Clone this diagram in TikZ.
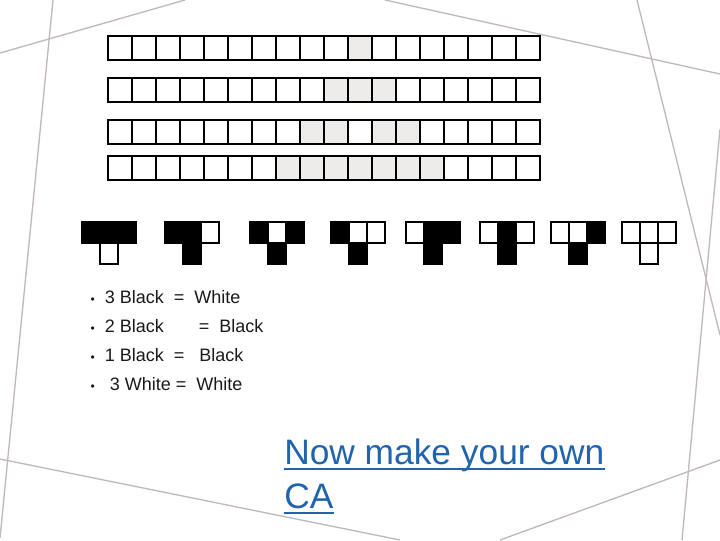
\documentclass[tikz,border=0pt]{standalone}
\usepackage{fontspec}
\setmainfont{Liberation Sans}
\definecolor{frameline}{RGB}{192,184,188}
\definecolor{caShade}{RGB}{238,235,235}
\definecolor{linkblue}{RGB}{31,100,173}
\tikzset{
  cacell/.style={draw, line width=0.9pt},
  rulecell/.style={draw, line width=0.9pt},
  ruletext/.style={anchor=west, font=\fontsize{13.5}{16}\selectfont, text=black!90},
  linktext/.style={anchor=base west, inner sep=0pt, text=linkblue, font=\fontsize{26.5}{34}\selectfont},
}
\begin{document}
\begin{tikzpicture}[x=0.75pt,y=0.75pt,yscale=-1,xscale=1]
\useasboundingbox (0,0) rectangle (720,540);

% background lines
\draw [frameline, line width=1pt] (53,0) -- (0,538);
\draw [frameline, line width=1pt] (0,53) -- (185,0);
\draw [frameline, line width=1pt] (385,0) -- (720,74);
\draw [frameline, line width=1pt] (637,0) -- (720,335);
\draw [frameline, line width=1pt] (720,129) -- (682,540);
\draw [frameline, line width=1pt] (0,459) -- (400,540);
\draw [frameline, line width=1pt] (500,540) -- (720,460);

% CA rows
\foreach \r/\y/\cells in {1/36/{10}, 2/78/{9,10,11}, 3/120/{8,9,11,12}, 4/156/{7,8,9,10,11,12,13}} {
  \foreach \c in \cells
    \fill [caShade] (108+24*\c,\y) rectangle ++(24,24);
  \foreach \i in {0,...,17}
    \draw [cacell] (108+24*\i,\y) rectangle ++(24,24);
}

% rule patterns
\foreach \x/\a/\b/\c/\d [count=\n] in {82/black/black/black/white, 165/black/black/white/black,
    250/black/white/black/black, 331/black/white/white/black, 406/white/black/black/black,
    480/white/black/white/black, 551/white/white/black/black, 622/white/white/white/white} {
  \draw [rulecell, fill=\a] (\x,222) rectangle ++(18,21);
  \draw [rulecell, fill=\b] (\x+18,222) rectangle ++(18,21);
  \draw [rulecell, fill=\c] (\x+36,222) rectangle ++(18,21);
  \draw [rulecell, fill=\d] (\x+18,243) rectangle ++(18,21);
}

% rules text
\node [ruletext] (r1) at (86,297) {{\small\textbullet}\ \ 3 Black \ = \ White};
\node [ruletext] (r2) at (86,326) {{\small\textbullet}\ \ 2 Black \ \ \ \ \ \ = \ Black};
\node [ruletext] (r3) at (86,355) {{\small\textbullet}\ \ 1 Black \ = \ \ Black};
\node [ruletext] (r4) at (86,384) {{\small\textbullet}\ \ \ 3 White = \ White};

% link
\node [linktext] (own) at (284,464) {Now make your own};
\node [linktext] (ca) at (284,508) {CA};
\draw [linkblue, line width=1.6pt] ([yshift=3.5pt]own.base west) -- ([yshift=3.5pt]own.base east);
\draw [linkblue, line width=1.6pt] ([yshift=3.5pt]ca.base west) -- ([yshift=3.5pt]ca.base east);

\end{tikzpicture}
\end{document}
